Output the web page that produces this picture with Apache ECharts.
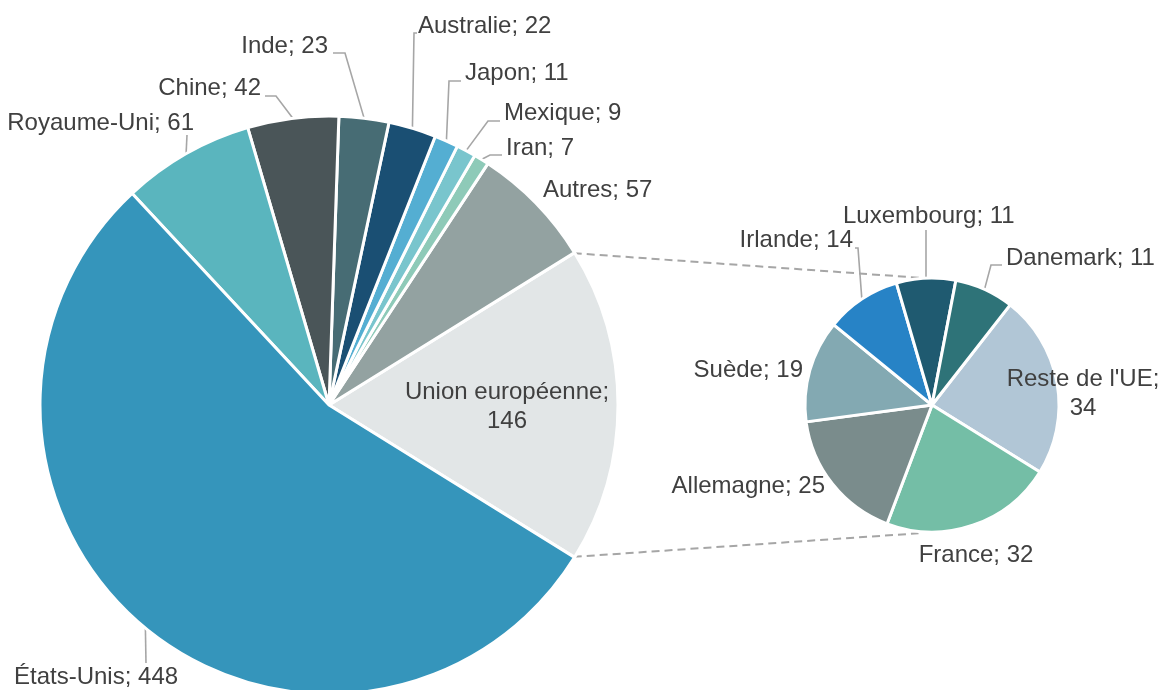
<!DOCTYPE html>
<html>
<head>
<meta charset="utf-8">
<script src="https://cdn.jsdelivr.net/npm/echarts@6/dist/echarts.min.js"></script>
<style>
html,body{margin:0;padding:0;background:#fff;}
#chart{width:1162px;height:690px;}
</style>
</head>
<body>
<div id="chart"></div>
<script>
// ---- data ----
const mainCategories = ['Union européenne', 'Autres', 'Iran', 'Mexique', 'Japon', 'Australie', 'Inde', 'Chine', 'Royaume-Uni', 'États-Unis'];
const mainValues = [146, 57, 7, 9, 11, 22, 23, 42, 61, 448];
const euCategories = ["Reste de l'UE", 'France', 'Allemagne', 'Suède', 'Irlande', 'Luxembourg', 'Danemark'];
const euValues = [34, 32, 25, 19, 14, 11, 11];

// ---- styles ----
const mainColors = ['#e2e6e7', '#93a2a1', '#8ecab8', '#79c5cd', '#54aed2', '#1a4f73', '#476c74', '#4a5558', '#5ab5be', '#3595bb'];
const euColors = ['#b1c6d6', '#74bea6', '#7a8c8c', '#83a9b2', '#2783c6', '#1f5a70', '#2e7378'];
const TEXT = '#404040';
const LINE = '#a6a6a6';
const FONT = "'Liberation Sans', Arial, sans-serif";
const FS = 24;

const C1 = [329, 405], R1 = 289;
const C2 = [932, 405], R2 = 127;

const mainTotal = mainValues.reduce((a, b) => a + b, 0);
const euHalf = mainValues[0] / mainTotal * 180;
const euTotal = euValues.reduce((a, b) => a + b, 0);
const euStart = euValues[0] / euTotal * 360 - euHalf;

// label anchors and label-line elbow points
const mainLabelPos = [
  {x: 507, y: 407, align: 'center'},
  {x: 543, y: 190, align: 'left'},
  {x: 506, y: 148, align: 'left', pts: [[490, 155], [502, 155]]},
  {x: 504, y: 113, align: 'left', pts: [[488, 121], [500, 121]]},
  {x: 465, y: 73, align: 'left', pts: [[449, 81], [461, 81]]},
  {x: 418, y: 26, align: 'left', pts: [[414, 33], [417, 33]]},
  {x: 328, y: 46, align: 'right', pts: [[345, 53], [333, 53]]},
  {x: 261, y: 88, align: 'right', pts: [[276, 96], [265, 96]]},
  {x: 194, y: 123, align: 'right', pts: [[187, 135]]},
  {x: 14, y: 677, align: 'left', pts: [[146, 663]]}
];
const euLabelPos = [
  {x: 1083, y: 394, align: 'center'},
  {x: 976, y: 555, align: 'center'},
  {x: 825, y: 486, align: 'right'},
  {x: 803, y: 370, align: 'right'},
  {x: 853, y: 240, align: 'right', pts: [[858, 248], [855, 248]]},
  {x: 843, y: 216, align: 'left', pts: [[926, 230]]},
  {x: 1006, y: 258, align: 'left', pts: [[991, 265], [1002, 265]]}
];

function makeLayout(posList) {
  return function (params) {
    const p = posList[params.dataIndex];
    const res = {x: p.x, y: p.y, align: p.align, verticalAlign: 'middle'};
    if (p.pts && params.labelLinePoints && params.labelLinePoints[0]) {
      res.labelLinePoints = [params.labelLinePoints[0]].concat(p.pts);
    }
    return res;
  };
}

function buildData(cats, vals, cols, posList, twoLine) {
  return cats.map((c, i) => ({
    name: c,
    value: vals[i],
    itemStyle: {color: cols[i]},
    label: {formatter: twoLine.indexOf(i) >= 0 ? '{b};\n{c}' : '{b}; {c}'},
    labelLine: {show: !!posList[i].pts}
  }));
}

const labelStyle = {
  show: true,
  position: 'outside',
  color: TEXT,
  fontFamily: FONT,
  fontSize: FS,
  lineHeight: 29
};
const labelLineStyle = {
  show: true,
  length: 10,
  length2: 10,
  smooth: false,
  lineStyle: {color: LINE, width: 1.6}
};

function pt(c, r, deg) {
  const a = deg * Math.PI / 180;
  return [c[0] + r * Math.cos(a), c[1] - r * Math.sin(a)];
}
const topA = pt(C1, R1 - 1, euHalf), topB = pt(C2, R2, 93);
const botA = pt(C1, R1 - 1, -euHalf), botB = pt(C2, R2 + 2, -96);

const chart = echarts.init(document.getElementById('chart'), null, {renderer: 'canvas'});
chart.setOption({
  animation: false,
  backgroundColor: '#ffffff',
  graphic: [
    {type: 'line', z: 1, shape: {x1: topA[0], y1: topA[1], x2: topB[0], y2: topB[1]},
      style: {stroke: LINE, lineWidth: 2, lineDash: [8, 5]}},
    {type: 'line', z: 1, shape: {x1: botA[0], y1: botA[1], x2: botB[0], y2: botB[1]},
      style: {stroke: LINE, lineWidth: 2, lineDash: [8, 5]}}
  ],
  series: [
    {
      type: 'pie',
      center: C1,
      radius: R1,
      startAngle: -euHalf,
      clockwise: false,
      avoidLabelOverlap: false,
      silent: true,
      emphasis: {disabled: true},
      itemStyle: {borderColor: '#ffffff', borderWidth: 3},
      label: labelStyle,
      labelLine: labelLineStyle,
      labelLayout: makeLayout(mainLabelPos),
      data: buildData(mainCategories, mainValues, mainColors, mainLabelPos, [0])
    },
    {
      type: 'pie',
      center: C2,
      radius: R2,
      startAngle: euStart,
      clockwise: true,
      avoidLabelOverlap: false,
      silent: true,
      emphasis: {disabled: true},
      itemStyle: {borderColor: '#ffffff', borderWidth: 3},
      label: labelStyle,
      labelLine: labelLineStyle,
      labelLayout: makeLayout(euLabelPos),
      data: buildData(euCategories, euValues, euColors, euLabelPos, [0])
    }
  ]
});
</script>
</body>
</html>
